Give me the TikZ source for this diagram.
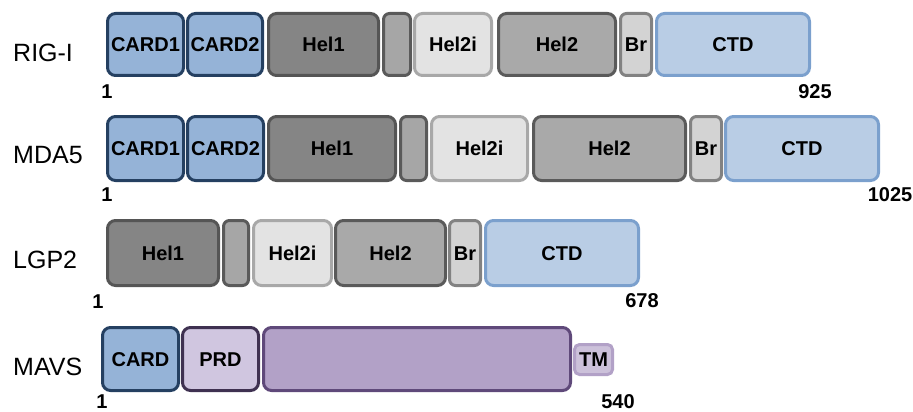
\documentclass[tikz,border=0pt]{standalone}
\usepackage{fontspec}
\setmainfont{Liberation Sans}
\definecolor{cardF}{HTML}{95B3D7}\definecolor{cardD}{HTML}{254061}
\definecolor{helF}{HTML}{858585}\definecolor{helD}{HTML}{555555}
\definecolor{lnkF}{HTML}{A6A6A6}\definecolor{lnkD}{HTML}{5A5A5A}
\definecolor{hiF}{HTML}{E3E3E3}\definecolor{hiD}{HTML}{A8A8A8}
\definecolor{h2F}{HTML}{A9A9A9}\definecolor{h2D}{HTML}{5A5A5A}
\definecolor{brF}{HTML}{D3D3D3}\definecolor{brD}{HTML}{828282}
\definecolor{ctdF}{HTML}{B9CDE5}\definecolor{ctdD}{HTML}{7BA0CD}
\definecolor{prdF}{HTML}{D0C6E0}\definecolor{prdD}{HTML}{3F3151}
\definecolor{bigF}{HTML}{B2A1C7}\definecolor{bigD}{HTML}{5F497A}
\definecolor{tmF}{HTML}{CCC1DA}\definecolor{tmD}{HTML}{B2A1C7}
\newcommand\dom[7]{\node[dombox,#6,minimum width={(#4-#2-3)*1pt},minimum height={(#5-#3-3)*1pt}] (#1) at ({(#2+#4)/2},{(#3+#5)/2}) {#7};}
\tikzset{
  dombox/.style={rounded corners=8pt,line width=3pt,inner sep=0pt,
    font=\bfseries\fontsize{20}{24}\selectfont,text height=14.3pt,text depth=0pt},
  card/.style={fill=cardF,draw=cardD},
  hel/.style={fill=helF,draw=helD},
  lnk/.style={fill=lnkF,draw=lnkD,rounded corners=6pt},
  hii/.style={fill=hiF,draw=hiD},
  heltwo/.style={fill=h2F,draw=h2D},
  brd/.style={fill=brF,draw=brD,rounded corners=6pt},
  ctd/.style={fill=ctdF,draw=ctdD},
  prd/.style={fill=prdF,draw=prdD},
  big/.style={fill=bigF,draw=bigD},
  tm/.style={fill=tmF,draw=tmD,rounded corners=5pt},
  rowlab/.style={anchor=base west,inner sep=0pt,font=\fontsize{25}{30}\selectfont},
  num/.style={inner sep=0pt,font=\bfseries\fontsize{20}{24}\selectfont,text height=14.3pt,text depth=0pt}
}
\begin{document}
\begin{tikzpicture}[x=1pt,y=-1pt]
\useasboundingbox (0,0) rectangle (913,412);
% RIG-I
\node[rowlab] (lrig) at (13,62) {RIG-I};
\dom{r1}{106}{12}{185}{77}{card}{CARD1}
\dom{r2}{186}{12}{264}{77}{card}{CARD2}
\dom{r3}{267}{12}{380}{77}{hel}{Hel1}
\dom{r4}{382}{12}{412}{77}{lnk}{}
\dom{r5}{413}{12}{493}{77}{hii}{Hel2i}
\dom{r6}{497}{12}{617}{77}{heltwo}{Hel2}
\dom{r7}{619}{12}{653}{77}{brd}{Br}
\dom{r8}{655}{12}{811}{77}{ctd}{CTD}
\node[num] (rs) at (107,91) {1};
\node[num] (re) at (815,91) {925};
% MDA5
\node[rowlab] (lmda) at (13,163) {MDA5};
\dom{m1}{106}{115}{185}{182}{card}{CARD1}
\dom{m2}{186}{115}{265}{182}{card}{CARD2}
\dom{m3}{267}{115}{397}{182}{hel}{Hel1}
\dom{m4}{399}{115}{428}{182}{lnk}{}
\dom{m5}{430}{115}{529}{182}{hii}{Hel2i}
\dom{m6}{532}{115}{687}{182}{heltwo}{Hel2}
\dom{m7}{689}{115}{723}{182}{brd}{Br}
\dom{m8}{724}{115}{880}{182}{ctd}{CTD}
\node[num] (ms) at (107,194) {1};
\node[num] (me) at (890,194) {1025};
% LGP2
\node[rowlab] (llgp) at (13,268) {LGP2};
\dom{l3}{106}{219}{220}{287}{hel}{Hel1}
\dom{l4}{222}{219}{250}{287}{lnk}{}
\dom{l5}{252}{219}{333}{287}{hii}{Hel2i}
\dom{l6}{334}{219}{447}{287}{heltwo}{Hel2}
\dom{l7}{448}{219}{482}{287}{brd}{Br}
\dom{l8}{484}{219}{640}{287}{ctd}{CTD}
\node[num] (ls) at (98,301) {1};
\node[num] (le) at (642,300) {678};
% MAVS
\node[rowlab] (lmav) at (13,375) {MAVS};
\dom{v1}{101}{326}{180}{392}{card}{CARD}
\dom{v2}{181}{326}{260}{392}{prd}{PRD}
\dom{v3}{262}{326}{572}{392}{big}{}
\dom{v4}{573}{343}{614}{376}{tm}{TM}
\node[num] (vs) at (102,401) {1};
\node[num] (ve) at (618,401) {540};
\end{tikzpicture}
\end{document}
